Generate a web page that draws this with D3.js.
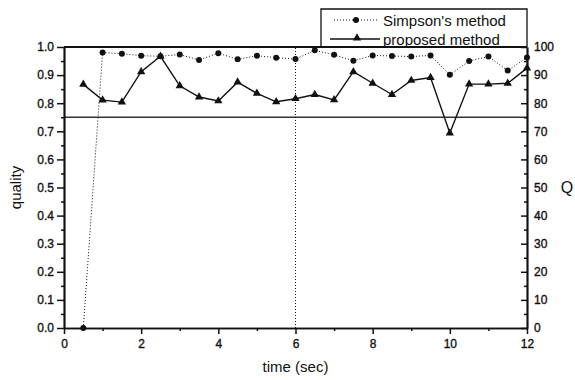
<!DOCTYPE html>
<html>
<head>
<meta charset="utf-8">
<script src="https://cdn.jsdelivr.net/npm/d3@7"></script>
<style>
  html, body { margin: 0; padding: 0; background: #fff; }
  svg { display: block; font-family: "Liberation Sans", Arial, sans-serif; }
</style>
</head>
<body>
<svg id="chart" width="575" height="380"></svg>
<script>
// Sampling instants (s)
const times = [0.5, 1.0, 1.5, 2.0, 2.5, 3.0, 3.5, 4.0, 4.5, 5.0, 5.5, 6.0,
               6.5, 7.0, 7.5, 8.0, 8.5, 9.0, 9.5, 10.0, 10.5, 11.0, 11.5, 12.0];
// Simpson's method, quality (left axis)
const simpsonQuality = [0.0, 0.98, 0.976, 0.969, 0.967, 0.973, 0.954, 0.978, 0.956, 0.969, 0.962, 0.957,
                        0.988, 0.972, 0.951, 0.970, 0.968, 0.966, 0.970, 0.901, 0.950, 0.966, 0.916, 0.963];
// Proposed method, Q (right axis)
const proposedQ = [86.7, 81.1, 80.4, 91.2, 96.7, 86.2, 82.2, 80.8, 87.5, 83.5, 80.5, 81.6,
                   83.1, 81.2, 91.2, 87.1, 83.1, 88.1, 89.1, 69.4, 86.8, 86.8, 87.1, 92.5];
// Reference levels
const thresholdQuality = 0.75;
const markerTime = 6;
// Tick values
const xTicks = [0, 2, 4, 6, 8, 10, 12];
const xMinor = [1, 3, 5, 7, 9, 11];
const leftTicks = [0, 0.1, 0.2, 0.3, 0.4, 0.5, 0.6, 0.7, 0.8, 0.9, 1.0];
const rightTicks = [0, 10, 20, 30, 40, 50, 60, 70, 80, 90, 100];
const seriesNames = ["Simpson's method", "proposed method"];

const svg = d3.select("#chart");
const plotLeft = 64, plotRight = 527, plotTop = 47, plotBottom = 328;

const x = d3.scaleLinear().domain([0, 12]).range([plotLeft, plotRight]);
const yL = d3.scaleLinear().domain([0, 1]).range([plotBottom, plotTop]);
const yR = d3.scaleLinear().domain([0, 100]).range([plotBottom, plotTop]);

const ink = "#111";

// Threshold line
svg.append("line")
  .attr("x1", x(0)).attr("x2", x(12))
  .attr("y1", yL(thresholdQuality)).attr("y2", yL(thresholdQuality))
  .attr("stroke", "#333").attr("stroke-width", 1.3);

// Vertical marker line
svg.append("line")
  .attr("x1", x(markerTime)).attr("x2", x(markerTime))
  .attr("y1", yL(0)).attr("y2", yL(1))
  .attr("stroke", ink).attr("stroke-width", 1).attr("stroke-dasharray", "1,2");

// Top frame line
svg.append("line")
  .attr("x1", x(0)).attr("x2", x(12))
  .attr("y1", yL(1)).attr("y2", yL(1))
  .attr("stroke", ink).attr("stroke-width", 2);

// Axes
function styleAxis(g) {
  g.selectAll("path.domain").attr("stroke", ink).attr("stroke-width", 1.7);
  g.selectAll(".tick line").attr("stroke", ink).attr("stroke-width", 1.5);
  g.selectAll(".tick text").attr("fill", ink).attr("font-size", 12)
    .attr("stroke", ink).attr("stroke-width", 0.35)
    .attr("font-family", "'Liberation Sans', Arial, sans-serif");
}

svg.append("g").attr("transform", `translate(0,${plotBottom})`)
  .call(d3.axisBottom(x).tickValues(xMinor).tickSize(3).tickFormat("").tickSizeOuter(0))
  .call(styleAxis);
svg.append("g").attr("transform", `translate(0,${plotBottom})`)
  .call(d3.axisBottom(x).tickValues(xTicks).tickSize(6).tickPadding(5).tickFormat(d3.format("d")).tickSizeOuter(0))
  .call(styleAxis);

const leftMinor = d3.range(0.05, 1, 0.1);
svg.append("g").attr("transform", `translate(${plotLeft},0)`)
  .call(d3.axisLeft(yL).tickValues(leftMinor).tickSize(3).tickFormat("").tickSizeOuter(0))
  .call(styleAxis);
svg.append("g").attr("transform", `translate(${plotLeft},0)`)
  .call(d3.axisLeft(yL).tickValues(leftTicks).tickSize(7).tickPadding(3).tickFormat(d3.format(".1f")).tickSizeOuter(0))
  .call(styleAxis);

const rightMinor = d3.range(5, 100, 10);
svg.append("g").attr("transform", `translate(${plotRight},0)`)
  .call(d3.axisRight(yR).tickValues(rightMinor).tickSize(-3).tickFormat("").tickSizeOuter(0))
  .call(styleAxis);
svg.append("g").attr("transform", `translate(${plotRight},0)`)
  .call(d3.axisRight(yR).tickValues(rightTicks).tickSize(-6).tickPadding(7).tickFormat(d3.format("d")).tickSizeOuter(0))
  .call(styleAxis);

// Axis titles
svg.append("text").attr("x", x(6)).attr("y", 372).attr("text-anchor", "middle")
  .attr("font-size", 15).attr("fill", ink).text("time (sec)");
svg.append("text").attr("transform", `translate(21,${yL(0.5)}) rotate(-90)`)
  .attr("text-anchor", "middle").attr("font-size", 15).attr("fill", ink).text("quality");
svg.append("text").attr("x", 567).attr("y", yL(0.5) + 5).attr("text-anchor", "middle")
  .attr("font-size", 16).attr("fill", ink).text("Q");

// Simpson's method series
const simpson = times.map((t, i) => ({ t, v: simpsonQuality[i] }));
svg.append("path").datum(simpson)
  .attr("d", d3.line().x(d => x(d.t)).y(d => yL(d.v)))
  .attr("fill", "none").attr("stroke", ink).attr("stroke-width", 1)
  .attr("stroke-dasharray", "1,2");
svg.append("g").selectAll("circle").data(simpson).join("circle")
  .attr("cx", d => x(d.t)).attr("cy", d => yL(d.v)).attr("r", 3).attr("fill", ink);

// Proposed method series
const proposed = times.map((t, i) => ({ t, v: proposedQ[i] }));
svg.append("path").datum(proposed)
  .attr("d", d3.line().x(d => x(d.t)).y(d => yR(d.v)))
  .attr("fill", "none").attr("stroke", ink).attr("stroke-width", 1.4);
const tri = d3.symbol().type(d3.symbolTriangle).size(30);
svg.append("g").selectAll("path").data(proposed).join("path")
  .attr("transform", d => `translate(${x(d.t)},${yR(d.v)})`)
  .attr("d", tri).attr("fill", ink);

// Legend
const lg = svg.append("g");
lg.append("path")
  .attr("d", `M321,${plotTop}V9H${plotRight}V${plotTop}`)
  .attr("fill", "none").attr("stroke", ink).attr("stroke-width", 1.3);
lg.append("line").attr("x1", 334).attr("x2", 379).attr("y1", 20).attr("y2", 20)
  .attr("stroke", ink).attr("stroke-width", 1).attr("stroke-dasharray", "1,2");
lg.append("circle").attr("cx", 356).attr("cy", 20).attr("r", 3).attr("fill", ink);
lg.append("line").attr("x1", 330).attr("x2", 380).attr("y1", 39).attr("y2", 39)
  .attr("stroke", ink).attr("stroke-width", 1.4);
lg.append("path").attr("transform", "translate(357,38)").attr("d", tri).attr("fill", ink);
lg.append("text").attr("x", 383).attr("y", 26).attr("font-size", 15).attr("fill", ink).text(seriesNames[0]);
lg.append("text").attr("x", 383).attr("y", 45).attr("font-size", 15).attr("fill", ink).text(seriesNames[1]);
</script>
</body>
</html>
